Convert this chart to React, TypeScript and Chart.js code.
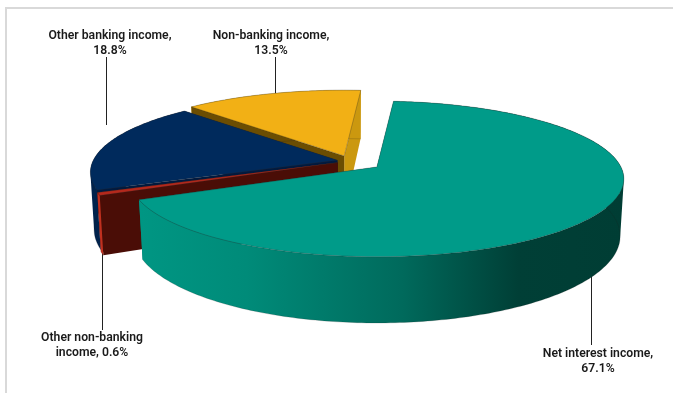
import React, { useEffect, useRef } from "react";
import { Chart, registerables } from "chart.js";

Chart.register(...registerables);

// Revenue mix, clockwise from the top of the pie
const categories = [
  "Net interest income",
  "Other non-banking income",
  "Other banking income",
  "Non-banking income",
];
const shares = [67.1, 0.6, 18.8, 13.5];
const explode = [0.135, 0.055, 0.053, 0.07];
const topColors = ["#009B89", "#B5281C", "#002A5C", "#F2B015"];
const startFaceColors = ["#00796B", "#4A0D06", "#001A40", "#6B4D02"];
const endFaceColors = ["#00796B", "#4A0D06", "#001A40", "#CB980F"];
const rimColors = ["#009B89", "#C0301F", "#00224C", "#CB980F"];

// Order in which slices are painted: far ones first, the front slice last
const paintOrder = [3, 2, 1, 0];

// Label anchor and leader line per slice
const labelCenters = [
  [598, 354],
  [92, 338],
  [110, 36],
  [271, 36],
];
const leaders = [
  [591, 270, 345],
  [102, 250, 330],
  [106, 57, 125],
  [275, 57, 105],
];

const RADIUS = 180;
const X_SCALE = 244 / RADIUS;
const Y_SCALE = 76 / RADIUS;
const PERSPECTIVE = 0.154;
const DEPTH = 56;
const BASE_SHRINK = 0.985;
const FONT = '600 12.2px Roboto, "Liberation Sans", sans-serif';

type Pt = [number, number];

function wrap(ctx: CanvasRenderingContext2D, text: string, max: number) {
  const lines: string[] = [];
  let line = "";
  for (const word of text.split(" ")) {
    const next = line ? line + " " + word : word;
    if (ctx.measureText(next).width > max && line) {
      lines.push(line);
      line = word;
    } else {
      line = next;
    }
  }
  lines.push(line);
  return lines;
}

// Shoelace area, used to give every rim quad the same winding
function signedArea(pts: Pt[]) {
  let area = 0;
  pts.forEach(([x, y], k) => {
    const [nx, ny] = pts[(k + 1) % pts.length];
    area += x * ny - nx * y;
  });
  return area;
}

// Draws the arcs as a tilted, extruded pie using the angles computed by the controller
const tiltedPie = {
  id: "tiltedPie",
  beforeDatasetDraw(chart: any, args: any) {
    const ctx: CanvasRenderingContext2D = chart.ctx;
    const arcs = args.meta.data;

    // Leader lines run underneath the slices
    ctx.save();
    ctx.strokeStyle = "#222";
    ctx.lineWidth = 1;
    leaders.forEach(([x, y0, y1]) => {
      ctx.beginPath();
      ctx.moveTo(x + 0.5, y0);
      ctx.lineTo(x + 0.5, y1);
      ctx.stroke();
    });
    ctx.restore();

    paintOrder.forEach((i) => {
      const arc = arcs[i];
      const r = arc.outerRadius;
      const ax = r * X_SCALE;
      const by = r * Y_SCALE;
      const t0 = arc.startAngle + Math.PI / 2;
      const t1 = arc.endAngle + Math.PI / 2;
      const mid = (t0 + t1) / 2;
      const d = arc.options.offset / r;
      const apexX = arc.x + d * ax * Math.sin(mid);
      const apexY = arc.y - d * by * Math.cos(mid);

      const rim = (t: number): Pt => {
        const v = -Math.cos(t);
        const w = 1 - PERSPECTIVE * v;
        return [apexX + (ax * Math.sin(t)) / w, apexY + (by * v) / w];
      };
      const base = (t: number): Pt => {
        const v = -Math.cos(t);
        const w = 1 - PERSPECTIVE * v;
        const [x, y] = rim(t);
        return [apexX + (x - apexX) * BASE_SHRINK, y + DEPTH / w];
      };
      const apex: Pt = [apexX, apexY];
      const apexBase: Pt = [apexX, apexY + DEPTH];
      const steps = Math.max(4, Math.ceil((t1 - t0) * 60));
      const angles = Array.from({ length: steps + 1 }, (_, k) => t0 + ((t1 - t0) * k) / steps);

      const trace = (pts: Pt[]) => {
        pts.forEach(([x, y], k) => (k ? ctx.lineTo(x, y) : ctx.moveTo(x, y)));
        ctx.closePath();
      };
      const poly = (pts: Pt[], fill: string | CanvasGradient, stroke?: string) => {
        ctx.beginPath();
        trace(pts);
        ctx.fillStyle = fill;
        ctx.fill();
        if (stroke) {
          ctx.strokeStyle = stroke;
          ctx.lineWidth = 0.6;
          ctx.stroke();
        }
      };

      // The front slice has a shaded band along its rim
      let rimFill: string | CanvasGradient = rimColors[i];
      if (i === 0) {
        const g = ctx.createLinearGradient(140, 0, 625, 0);
        g.addColorStop(0, "#009683");
        g.addColorStop(0.22, "#008B79");
        g.addColorStop(0.54, "#006A5C");
        g.addColorStop(0.78, "#003F36");
        g.addColorStop(1, "#003D34");
        rimFill = g;
      }

      // One path per band, so neighbouring quads leave no seams
      const rimBand = (front: boolean) => {
        ctx.beginPath();
        for (let k = 0; k < steps; k++) {
          const a = angles[k];
          const b = angles[k + 1];
          if (-Math.cos((a + b) / 2) >= 0 !== front) continue;
          const quad: Pt[] = [rim(a), rim(b), base(b), base(a)];
          trace(signedArea(quad) < 0 ? quad.reverse() : quad);
        }
        ctx.fillStyle = rimFill;
        ctx.fill();
      };

      // Far rim, then cut faces, then near rim, then the top surface
      rimBand(false);
      poly([apex, rim(t1), base(t1), apexBase], endFaceColors[i]);
      poly([apex, rim(t0), base(t0), apexBase], startFaceColors[i]);
      rimBand(true);

      ctx.beginPath();
      angles.map(base).forEach(([x, y], k) => (k ? ctx.lineTo(x, y) : ctx.moveTo(x, y)));
      ctx.strokeStyle = "rgba(30,30,30,0.3)";
      ctx.lineWidth = 0.6;
      ctx.stroke();

      poly([apex, ...angles.map(rim)], arc.options.backgroundColor, "rgba(40,40,40,0.5)");
    });

    return false;
  },
  afterDraw(chart: any) {
    const ctx: CanvasRenderingContext2D = chart.ctx;
    ctx.save();
    ctx.font = FONT;
    ctx.fillStyle = "#1a1a1a";
    ctx.textAlign = "center";
    ctx.textBaseline = "middle";
    categories.forEach((name, i) => {
      const lines = wrap(ctx, `${name}, ${shares[i]}%`, 132);
      lines.forEach((line, k) => {
        ctx.fillText(line, labelCenters[i][0], labelCenters[i][1] + k * 15);
      });
    });
    ctx.restore();
  },
};

// Thin grey frame along the top and left edge of the plot
const frame = {
  id: "frame",
  beforeDraw(chart: any) {
    const ctx: CanvasRenderingContext2D = chart.ctx;
    ctx.save();
    ctx.fillStyle = "#fff";
    ctx.fillRect(0, 0, chart.width, chart.height);
    ctx.fillStyle = "#D9D9D9";
    ctx.fillRect(6, 7, chart.width - 6, 2);
    ctx.fillRect(5, 7, 2, chart.height - 7);
    ctx.restore();
  },
};

export default function App() {
  const ref = useRef<HTMLCanvasElement>(null);
  useEffect(() => {
    const chart = new Chart(ref.current!, {
      type: "pie",
      data: {
        labels: categories,
        datasets: [
          {
            data: shares,
            backgroundColor: topColors,
            offset: explode.map((d) => d * RADIUS),
            borderWidth: 0,
          },
        ],
      },
      options: {
        responsive: false,
        animation: false,
        rotation: 4.5,
        radius: RADIUS,
        layout: { padding: { left: 27, right: 0, top: 0, bottom: 71 } },
        plugins: { legend: { display: false }, tooltip: { enabled: false } },
      },
      plugins: [frame, tiltedPie],
    } as any);
    return () => chart.destroy();
  }, []);
  return (
    <div style={{ position: "fixed", left: 0, top: 0, width: 673, height: 393, overflow: "hidden" }}>
      <canvas ref={ref} width={673} height={393} style={{ display: "block" }} />
    </div>
  );
}
